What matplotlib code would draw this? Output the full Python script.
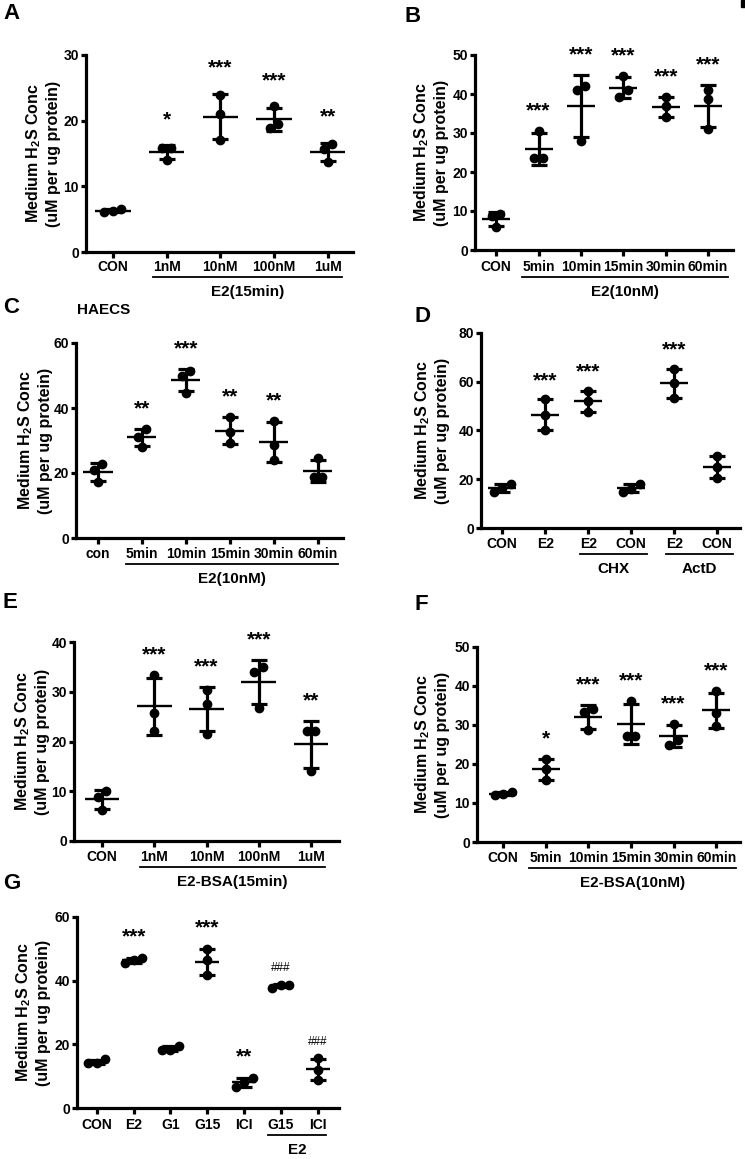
import numpy as np
import matplotlib
matplotlib.use('Agg')
import matplotlib.pyplot as plt
from matplotlib.lines import Line2D
from matplotlib.patches import Rectangle

plt.rcParams['font.family'] = ['Liberation Sans', 'DejaVu Sans']
plt.rcParams['font.weight'] = 'bold'
plt.rcParams['mathtext.fontset'] = 'custom'
plt.rcParams['mathtext.rm'] = 'Liberation Sans:bold'
plt.rcParams['mathtext.it'] = 'Liberation Sans:bold'
plt.rcParams['mathtext.bf'] = 'Liberation Sans:bold'
plt.rcParams['mathtext.default'] = 'rm'

# ---------------- data ----------------
a_cats = ['CON', '1nM', '10nM', '100nM', '1uM']
a_vals = [[6.6, 6.1, 6.2], [15.8, 14.0, 15.8], [23.9, 21.0, 17.0],
          [22.2, 18.9, 19.5], [16.4, 15.7, 13.7]]
a_sig = ['', '*', '***', '***', '**']

b_cats = ['CON', '5min', '10min', '15min', '30min', '60min']
b_vals = [[9.2, 8.6, 6.0], [30.5, 23.5, 23.5], [42.1, 41.0, 27.9],
          [44.6, 39.3, 41.0], [39.2, 36.8, 34.0], [41.0, 38.8, 30.9]]
b_sig = ['', '***', '***', '***', '***', '***']

c_cats = ['con', '5min', '10min', '15min', '30min', '60min']
c_vals = [[22.8, 21.0, 17.2], [33.5, 31.2, 28.1], [51.3, 49.8, 44.7],
          [37.3, 32.5, 29.1], [36.1, 28.6, 24.0], [24.5, 18.7, 18.7]]
c_sig = ['', '**', '***', '**', '**', '']

d_cats = ['CON', 'E2', 'E2', 'CON', 'E2', 'CON']
d_vals = [[18.0, 14.8, 16.6], [52.8, 46.4, 40.2], [56.4, 51.9, 47.5],
          [18.0, 14.8, 16.2], [65.3, 59.4, 53.5], [29.6, 25.1, 20.7]]
d_sig = ['', '***', '***', '', '***', '']

e_cats = ['CON', '1nM', '10nM', '100nM', '1uM']
e_vals = [[10.0, 8.9, 6.2], [33.3, 25.8, 22.1], [30.3, 27.6, 21.6],
          [35.0, 34.0, 26.8], [22.1, 22.1, 14.0]]
e_sig = ['', '***', '***', '***', '**']

f_cats = ['CON', '5min', '10min', '15min', '30min', '60min']
f_vals = [[12.9, 12.0, 12.3], [21.4, 18.6, 15.8], [34.2, 33.3, 28.6],
          [36.1, 27.2, 27.2], [30.3, 26.1, 25.0], [38.6, 33.2, 29.7]]
f_sig = ['', '*', '***', '***', '***', '***']

g_cats = ['CON', 'E2', 'G1', 'G15', 'ICI', 'G15', 'ICI']
g_vals = [[15.3, 14.1, 14.2], [47.1, 45.7, 46.4], [19.5, 18.1, 18.3],
          [49.8, 46.4, 41.7], [9.4, 6.6, 8.2], [38.7, 37.8, 38.5],
          [15.7, 11.8, 8.9]]
g_sig = ['', '***', '', '***', '**', '###', '###']

ylabel_text = 'Medium H$_2$S Conc\n(uM per ug protein)'

# ---------------- layout ----------------
W, H = 745, 1159
fig = plt.figure(figsize=(W / 100, H / 100), dpi=100)

panels = [
    dict(letter='A', cats=a_cats, vals=a_vals, sig=a_sig, groups=[(1, 4, 'E2(15min)')],
         ymax=30, ystep=10, box=(86, 55, 353, 252), xlim=(-0.5, 4.47), ylr=61,
         lpos=(3, 19), soff=14.5, tpad=1.0),
    dict(letter='B', cats=b_cats, vals=b_vals, sig=b_sig, groups=[(1, 5, 'E2(10nM)')],
         ymax=50, ystep=10, box=(475, 55, 733, 250), xlim=(-0.5, 5.59), ylr=449,
         lpos=(405, 22), soff=10.5, tpad=3.0),
    dict(letter='C', cats=c_cats, vals=c_vals, sig=c_sig, groups=[(1, 5, 'E2(10nM)')],
         ymax=60, ystep=20, box=(76, 343, 343, 538), xlim=(-0.5, 5.57), ylr=53,
         lpos=(3, 313), soff=10.5, tpad=2.3),
    dict(letter='D', cats=d_cats, vals=d_vals, sig=d_sig, groups=[(2, 3, 'CHX'), (4, 5, 'ActD')],
         ymax=80, ystep=20, box=(481, 333, 740, 528), xlim=(-0.49, 5.53), ylr=450,
         lpos=(414, 322), soff=9.5, tpad=2.3),
    dict(letter='E', cats=e_cats, vals=e_vals, sig=e_sig, groups=[(1, 4, 'E2-BSA(15min)')],
         ymax=40, ystep=10, box=(74, 642, 339, 841), xlim=(-0.54, 4.54), ylr=50,
         lpos=(3, 608), soff=10.5, tpad=2.3),
    dict(letter='F', cats=f_cats, vals=f_vals, sig=f_sig, groups=[(1, 5, 'E2-BSA(10nM)')],
         ymax=50, ystep=10, box=(477, 647, 740, 842), xlim=(-0.61, 5.56), ylr=450,
         lpos=(415, 610), soff=10.5, tpad=1.8),
    dict(letter='G', cats=g_cats, vals=g_vals, sig=g_sig, groups=[(5, 6, 'E2')],
         ymax=60, ystep=20, box=(77, 917, 339, 1108), xlim=(-0.54, 6.58), ylr=51,
         lpos=(3, 889), soff=11.0, tpad=3.0),
]

LW = 2.3
MS = 6.0
DOT = 8.5  # dot diameter in px for swarm spacing


def swarm(vals, ppu_y, ppu_x):
    vals = np.asarray(vals, dtype=float)
    order = np.argsort(vals, kind='stable')
    offs = np.zeros(len(vals))
    clusters = [[order[0]]]
    for k in order[1:]:
        if (vals[k] - vals[clusters[-1][-1]]) * ppu_y < DOT:
            clusters[-1].append(k)
        else:
            clusters.append([k])
    for c in clusters:
        n = len(c)
        for j, k in enumerate(c):
            offs[k] = (j - (n - 1) / 2) * DOT / ppu_x
    return offs


axes = []
for p in panels:
    l, t, r, b = p['box']
    ax = fig.add_axes([l / W, 1 - b / H, (r - l) / W, (b - t) / H])
    axes.append(ax)
    ax.set_xlim(*p['xlim'])
    ax.set_ylim(0, p['ymax'])
    ppu_y = (b - t) / p['ymax']
    ppu_x = (r - l) / (p['xlim'][1] - p['xlim'][0])
    for i, v in enumerate(p['vals']):
        v = np.asarray(v, dtype=float)
        m = v.mean()
        sd = v.std(ddof=1)
        offs = swarm(v, ppu_y, ppu_x)
        ax.errorbar(i, m, yerr=sd, fmt='none', ecolor='k', elinewidth=LW,
                    capsize=6, capthick=LW, zorder=2, clip_on=False)
        ax.plot(i + offs, v, 'o', ms=MS, color='k', mec='k', zorder=3, clip_on=False)
        ax.plot([i - 0.33, i + 0.33], [m, m], color='k', lw=1.7, zorder=4,
                solid_capstyle='butt', clip_on=False)
        s = p['sig'][i]
        if s:
            top = max(m + sd, v.max())
            if '#' in s:
                ax.annotate(s, xy=(i, top), xytext=(0, 9.5), textcoords='offset points',
                            ha='center', va='baseline', fontsize=8.5, fontweight='normal')
            else:
                ax.annotate(s, xy=(i, top), xytext=(0, p['soff']), textcoords='offset points',
                            ha='center', va='baseline', fontsize=15, fontweight='bold')
    ax.set_xticks(range(len(p['cats'])))
    ax.set_xticklabels(p['cats'], fontsize=10, fontweight='bold')
    yt = np.arange(0, p['ymax'] + 0.1, p['ystep'])
    ax.set_yticks(yt)
    ax.set_yticklabels([f'{int(y)}' for y in yt], fontsize=10, fontweight='bold')
    for sp in ['top', 'right']:
        ax.spines[sp].set_visible(False)
    for sp in ['left', 'bottom']:
        ax.spines[sp].set_linewidth(LW)
    ax.tick_params(axis='x', direction='out', length=4.5, width=LW, pad=p['tpad'])
    ax.tick_params(axis='y', direction='out', length=3.5, width=LW, pad=1.5)
    # y label (right edge placed at ylr px)
    fig.text(p['ylr'] / W, 1 - ((t + b) / 2) / H, ylabel_text, rotation=90,
             ha='right', va='center', fontsize=11.5, fontweight='bold',
             linespacing=1.25, multialignment='center')
    # panel letter
    fig.text(p['lpos'][0] / W, 1 - p['lpos'][1] / H, p['letter'], ha='left',
             va='baseline', fontsize=16, fontweight='bold')

fig.text(77 / W, 1 - 310 / H, 'HAECS', ha='left', va='center', fontsize=11,
         fontweight='bold')

# group underlines, derived from tick label extents
fig.canvas.draw()
renderer = fig.canvas.get_renderer()
for p, ax in zip(panels, axes):
    labels = ax.get_xticklabels()
    for (s, e, name) in p['groups']:
        bb1 = labels[s].get_window_extent(renderer)
        bb2 = labels[e].get_window_extent(renderer)
        x0, x1 = bb1.x0, bb2.x1
        y = min(bb1.y0, bb2.y0) - 3
        fig.add_artist(Line2D([x0 / W, x1 / W], [y / H, y / H], color='k', lw=1.3,
                              transform=fig.transFigure))
        fig.text((x0 + x1) / 2 / W, (y - 15) / H, name, ha='center', va='center',
                 fontsize=11, fontweight='bold')

# crop artefact at top-right corner
fig.add_artist(Rectangle((741 / W, 1 - 7 / H), 4 / W, 7 / H, color='k',
                         transform=fig.transFigure))

fig.savefig('out.png', dpi=100)
